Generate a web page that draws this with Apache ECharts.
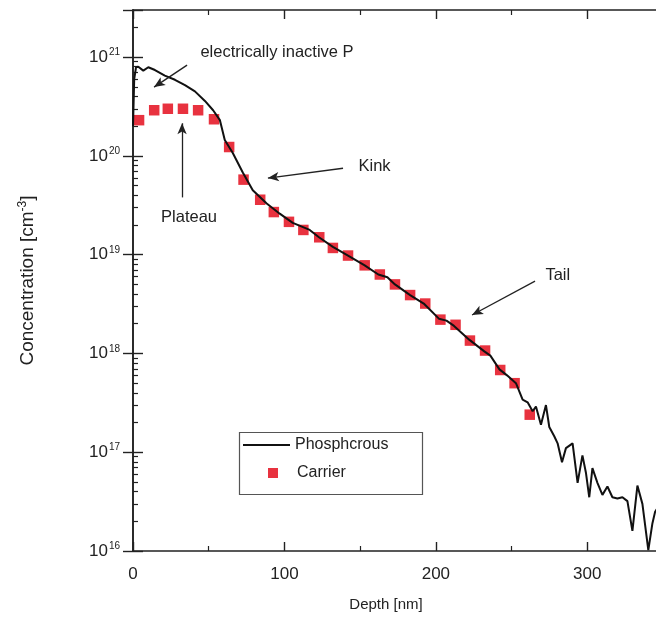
<!DOCTYPE html>
<html><head><meta charset="utf-8">
<script src="https://cdn.jsdelivr.net/npm/echarts@6/dist/echarts.min.js"></script>
<style>html,body{margin:0;padding:0;background:#fff}#c{width:656px;height:622px}</style>
</head><body><div id="c"></div>
<script>
// ---- data ----
const phosDepth = [0, 0.8, 2, 3.5, 6.8, 10.1, 14.5, 21, 27.7, 34.3, 40.9, 47.5, 52.9, 57.4, 60.6, 65.9, 72.5, 79.1, 88.3, 96.9, 105.5, 116.7, 122.8, 132, 142, 153, 162, 168, 173, 183, 192, 202, 207, 212, 222, 232, 236, 242, 247, 252.9, 257.3, 260.6, 263.9, 266.1, 269.4, 272.7, 274.9, 278.2, 280.4, 283.3, 285.9, 290.3, 293.6, 296.8, 299.1, 301.3, 303.4, 306.7, 310, 313.3, 316.6, 319.9, 323.2, 326.5, 329.8, 333.1, 336.4, 340.3, 343, 344.8, 348];
const phosConc = [2.0e20, 6.0e20, 7.9e20, 8.0e20, 7.3e20, 7.9e20, 7.4e20, 6.5e20, 5.9e20, 5.2e20, 4.5e20, 3.6e20, 2.9e20, 2.3e20, 1.45e20, 1.07e20, 6.8e19, 4.5e19, 3.3e19, 2.6e19, 2.1e19, 1.78e19, 1.5e19, 1.2e19, 9.8e18, 7.8e18, 6.3e18, 5.9e18, 5.0e18, 3.9e18, 3.2e18, 2.25e18, 2.15e18, 1.9e18, 1.38e18, 1.05e18, 9.5e17, 6.9e17, 6.0e17, 5.0e17, 3.4e17, 3.2e17, 2.6e17, 2.9e17, 1.9e17, 3.0e17, 1.8e17, 1.45e17, 1.23e17, 7.9e16, 1.1e17, 1.23e17, 4.9e16, 9.3e16, 6.2e16, 3.5e16, 6.9e16, 4.9e16, 3.7e16, 4.5e16, 3.5e16, 3.4e16, 3.5e16, 3.2e16, 1.6e16, 4.6e16, 3.0e16, 1.02e16, 1.9e16, 2.5e16, 3.0e16];
const carrierDepth = [4, 14, 23, 33, 43, 53.5, 63.5, 73, 84, 93, 103, 112.5, 123, 132, 142, 153, 163, 173, 183, 193, 203, 213, 222.5, 232.5, 242.5, 252, 262];
const carrierConc = [2.3e20, 2.9e20, 3.0e20, 3.0e20, 2.9e20, 2.35e20, 1.23e20, 5.75e19, 3.6e19, 2.7e19, 2.15e19, 1.78e19, 1.5e19, 1.17e19, 9.8e18, 7.8e18, 6.3e18, 5.0e18, 3.9e18, 3.2e18, 2.2e18, 1.95e18, 1.35e18, 1.07e18, 6.8e17, 5.0e17, 2.4e17];
const xTickLabels = [0, 100, 200, 300];
const yDecades = [16, 17, 18, 19, 20, 21];
const seriesNames = ['Phosphcrous', 'Carrier'];
const axisNames = {x: 'Depth [nm]', y: 'Concentration [cm{s|-3}]'};
const annoText = ['electrically inactive P', 'Plateau', 'Kink', 'Tail'];
const annoTextAt = [[44.2, 1.12e21], [37, 2.4e19], [148.6, 7.9e19], [272, 6.2e18]];
const annoArrowFrom = [[35.7, 8.3e20], [32.4, 3.8e19], [138.7, 7.5e19], [265.5, 5.4e18]];
const annoArrowTo = [[13.9, 4.97e20], [32.4, 2.14e20], [89.1, 5.96e19], [223.9, 2.45e18]];

// ---- chart ----
const FONT = '"Liberation Sans Narrow","Liberation Sans",Arial,sans-serif';
const INK = '#222';
const Y_MIN = Math.pow(10, yDecades[0]);
const Y_MAX = 3e21;
const X_MIN = 0, X_MAX = 350;

const minorLog = [];
yDecades.forEach(n => { for (let k = 2; k <= 9; k++) { const v = n + Math.log10(k); if (v < Math.log10(Y_MAX) - 1e-6) minorLog.push(v); } });

const chart = echarts.init(document.getElementById('c'));

const yLabelFmt = v => {
  const l = Math.log10(v); const e = Math.round(l);
  if (Math.abs(l - e) > 1e-6 || yDecades.indexOf(e) < 0) return '';
  return '{b|10}{s|' + e + '}';
};

const logAxisBase = (pos, showLabel) => ({
  type: 'log', position: pos, min: Y_MIN, max: Y_MAX, logBase: 10, gridIndex: 0,
  axisLine: {show: true, lineStyle: {color: INK, width: 1.6}},
  axisTick: {show: true, inside: true, length: 10, lineStyle: {color: INK, width: 1.4}},
  splitLine: {show: false},
  axisLabel: showLabel ? {
    show: true, margin: 13, formatter: yLabelFmt,
    rich: {
      b: {fontFamily: FONT, fontSize: 17, color: INK, lineHeight: 19},
      s: {fontFamily: FONT, fontSize: 10, color: INK, verticalAlign: 'top', lineHeight: 19, padding: [0, 0, 0, 1]}
    }
  } : {show: false}
});
const minorYAxis = pos => ({
  type: 'value', position: pos, min: yDecades[0], max: Math.log10(Y_MAX),
  axisLine: {show: false}, splitLine: {show: false}, axisLabel: {show: false},
  axisTick: {show: true, inside: true, length: 5, customValues: minorLog, lineStyle: {color: INK, width: 1.2}}
});
const xAxisBase = (pos, showLabel) => ({
  type: 'value', position: pos, min: X_MIN, max: X_MAX, interval: 100,
  axisLine: {show: true, lineStyle: {color: INK, width: 1.6}},
  axisTick: {show: true, inside: true, length: 9, lineStyle: {color: INK, width: 1.4}},
  minorTick: {show: true, splitNumber: 2, length: 5, lineStyle: {color: INK, width: 1.2}},
  splitLine: {show: false}, minorSplitLine: {show: false},
  axisLabel: showLabel ? {
    show: true, margin: 15, fontFamily: FONT, fontSize: 17, color: INK,
    formatter: v => (xTickLabels.indexOf(v) >= 0 ? String(v) : '')
  } : {show: false}
});

const xAxes = [
  Object.assign(xAxisBase('bottom', true), {
    name: axisNames.x, nameLocation: 'middle', nameGap: 46,
    nameTextStyle: {fontFamily: FONT, fontSize: 15, color: INK, padding: [0, 24, 0, 0]}
  }),
  xAxisBase('top', false)
];
const yAxes = [
  Object.assign(logAxisBase('left', true), {
    name: axisNames.y, nameLocation: 'middle', nameGap: 94, nameRotate: 90,
    nameTextStyle: {fontFamily: FONT, fontSize: 19, color: INK,
      rich: {s: {fontFamily: FONT, fontSize: 12, color: INK, verticalAlign: 'top', lineHeight: 22}}}
  }),
  logAxisBase('right', false),
  minorYAxis('left'),
  minorYAxis('right')
];

const phosData = phosDepth.map((d, i) => [d, phosConc[i]]);
const carrierData = carrierDepth.map((d, i) => [d, carrierConc[i]]);

const markLineData = annoArrowFrom.map((f, i) => [{coord: f}, {coord: annoArrowTo[i]}]);
const markPointData = annoText.map((t, i) => ({
  name: t, coord: annoTextAt[i],
  label: i === 1 ? {position: 'inside', align: 'center'} : {position: 'right', distance: 0}
}));

chart.setOption({
  animation: false,
  backgroundColor: '#fff',
  grid: {left: 133, right: -7, top: 10, bottom: 71, containLabel: false, outerBoundsMode: 'none'},
  xAxis: xAxes,
  yAxis: yAxes,
  legend: [
    {data: [{name: seriesNames[0], icon: 'rect'}], orient: 'vertical', left: 243, top: 435, padding: 0,
     itemWidth: 47, itemHeight: 2, itemGap: 0,
     itemStyle: {color: '#111'},
     textStyle: {fontFamily: FONT, fontSize: 16, color: INK, lineHeight: 20}},
    {data: [{name: seriesNames[1], icon: 'rect'}], orient: 'vertical', left: 268, top: 463, padding: 0,
     itemWidth: 10, itemHeight: 10, itemGap: 0,
     textStyle: {fontFamily: FONT, fontSize: 16, color: INK, lineHeight: 20, padding: [0, 0, 0, 14]}}
  ],
  graphic: [{
    type: 'rect', left: 237, top: 430, z: 10,
    shape: {width: 183, height: 62},
    style: {fill: 'none', stroke: '#555', lineWidth: 1.2}
  }],
  series: [
    {
      name: seriesNames[0], type: 'line', data: phosData, xAxisIndex: 0, yAxisIndex: 0,
      symbol: 'none', showSymbol: false, z: 3, clip: true,
      lineStyle: {color: '#111', width: 2},
      itemStyle: {color: '#111'},
      markLine: {
        silent: true, symbol: ['none', 'arrow'], symbolSize: [7, 11], precision: 4,
        lineStyle: {color: INK, width: 1.3, type: 'solid'},
        label: {show: false}, emphasis: {disabled: true},
        data: markLineData
      },
      markPoint: {
        silent: true, symbol: 'circle', symbolSize: 1,
        itemStyle: {color: 'rgba(0,0,0,0)'},
        label: {show: true, formatter: '{b}', fontFamily: FONT, fontSize: 16.5, color: INK},
        data: markPointData
      }
    },
    {
      name: seriesNames[1], type: 'scatter', data: carrierData, xAxisIndex: 0, yAxisIndex: 0,
      symbol: 'rect', symbolSize: 10.5, z: 2,
      itemStyle: {color: '#e8323f', opacity: 1}
    }
  ]
});
</script>
</body></html>
